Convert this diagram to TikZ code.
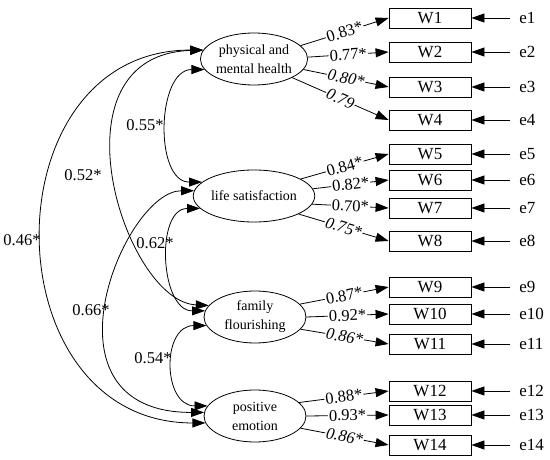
\documentclass[tikz,border=0pt]{standalone}
\usepackage{fontspec}
\setmainfont{Liberation Serif}
\usetikzlibrary{arrows.meta, shapes.geometric}
\newcommand{\labfont}{\fontsize{17}{19}\selectfont}
\newcommand{\coeffont}{\fontsize{16.5}{18}\selectfont}
\tikzset{
  every picture/.style={line width=0.8pt},
  latent/.style={draw, ellipse, minimum width=102pt, minimum height=52pt, inner sep=0pt,
    align=center, font=\fontsize{14}{19}\selectfont},
  obs/.style={draw, minimum width=82pt, minimum height=20pt, inner sep=0pt, font=\labfont},
  err/.style={anchor=west, inner xsep=9pt, inner ysep=0pt, font=\labfont},
  arrow/.style={-{Triangle[length=13pt, width=9pt]}},
  cov/.style={{Triangle[length=13pt, width=9pt]}-{Triangle[length=13pt, width=9pt]}},
  load/.style={fill=white, inner xsep=1pt, inner ysep=0pt, sloped, font=\coeffont},
  coef/.style={inner sep=0pt, font=\coeffont},
}

\begin{document}
\begin{tikzpicture}[x=1pt, y=-1pt]
  \useasboundingbox (0,0) rectangle (550,460);
  % latent factors
  \node[latent] (phm) at (254,59) {physical and\\mental health};
  \node[latent] (ls) at (254,196) {life satisfaction};
  \node[latent] (ff) at (255,317) {family\\flourishing};
  \node[latent] (pe) at (255,416) {positive\\emotion};
  % observed items and their errors
  \foreach \y [count=\i] in {18,52,87,120,154,180,208,241,287,314,344,391,415,445} {
    \node[obs] (W\i) at (430,\y) {W\i};
    \node[err] (e\i) at (510,\y) {e\i};
    \draw[arrow] (e\i.west) -- (W\i.east);
  }
  % loadings
  \foreach \lv/\ang/\w/\val in {phm/16/1/0.83*, phm/2/2/0.77*, phm/-12/3/\textit{0.80*}, phm/-26/4/\textit{0.79},
      ls/20/5/0.84*, ls/7/6/0.82*, ls/-8/7/0.70*, ls/-22/8/\textit{0.75*},
      ff/16/9/0.87*, ff/0/10/0.92*, ff/-15/11/\textit{0.86*},
      pe/17/12/0.88*, pe/0/13/0.93*, pe/-15/14/\textit{0.86*}} {
    \draw[arrow] (\lv.\ang) -- node[load] {\val} (W\w.west);
  }
  % correlations between factors
  \draw[cov] (phm.192) .. controls +(-48,0) and +(-48,0) .. (ls.165);
  \draw[cov] (phm.170) .. controls +(-156,5) and +(-85,-4) .. (ff.166);
  \draw[cov] (phm.170) .. controls +(-216,0) and +(-216,0) .. (pe.188);
  \draw[cov] (ls.193) .. controls +(-45,0) and +(-45,0) .. (ff.173);
  \draw[cov] (ls.175) .. controls +(-70,0) and +(-172,0) .. (pe.176);
  \draw[cov] (ff.190) .. controls +(-45,0) and +(-45,0) .. (pe.168);
  \node[coef] (r1) at (145,125) {0.55*};
  \node[coef] (r2) at (83,175) {0.52*};
  \node[coef] (r3) at (22,240) {0.46*};
  \node[coef] (r4) at (155,243) {0.62*};
  \node[coef] (r5) at (91,310) {0.66*};
  \node[coef] (r6) at (153,358) {0.54*};
\end{tikzpicture}
\end{document}
